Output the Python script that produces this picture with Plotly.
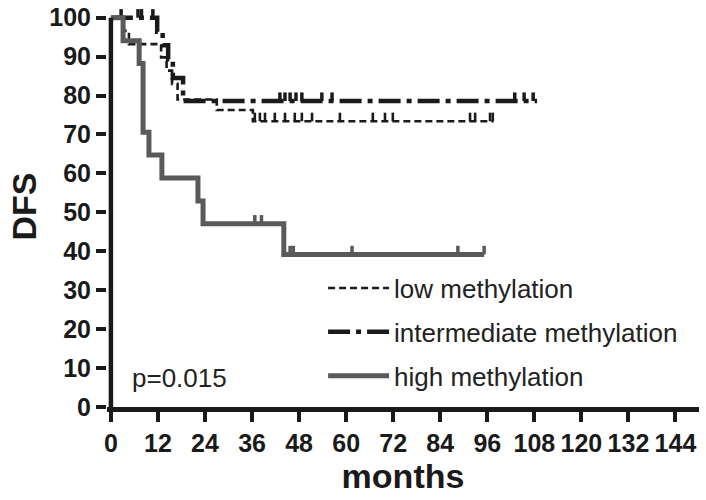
import plotly.graph_objects as go

# Kaplan-Meier steps (months, DFS %)
low_time = [0, 3.3, 4.6, 12.8, 14.2, 15.6, 17.0, 27.0, 36.2]
low_surv = [100, 96.6, 93.2, 89.8, 86.4, 83.0, 79.0, 76.3, 73.4]
low_cens = [36.7, 38.0, 39.3, 41.8, 44.4, 46.9, 48.7, 51.3, 58.4, 66.8, 69.9,
            71.9, 91.6, 92.9, 96.7, 97.4]
low_end = 97.6

int_time = [0, 11.8, 13.2, 14.6, 15.8, 18.4]
int_surv = [100, 96.4, 92.9, 89.3, 84.5, 78.6]
int_cens = [2.6, 6.9, 7.8, 10.7, 43.1, 44.4, 45.7, 47.2, 48.7, 53.8, 56.4,
            103.0, 105.4, 107.7]
int_end = 108.7

high_time = [0, 3.1, 7.2, 8.2, 9.7, 13.0, 22.2, 23.5, 44.1]
high_surv = [100, 94.1, 88.2, 70.6, 64.7, 58.8, 52.9, 47.1, 39.2]
high_cens = [36.7, 38.4, 45.7, 46.5, 61.5, 88.5, 95.2]
high_end = 95.2

x_ticks = list(range(0, 145, 12))
y_ticks = list(range(0, 101, 10))


def step_xy(times, surv, end):
    xs, ys = [], []
    for i, (t, s) in enumerate(zip(times, surv)):
        if i > 0:
            xs.append(t)
            ys.append(surv[i - 1])
        xs.append(t)
        ys.append(s)
    xs.append(end)
    ys.append(surv[-1])
    return xs, ys


def surv_at(times, surv, t):
    val = surv[0]
    for tt, s in zip(times, surv):
        if tt <= t:
            val = s
    return val


def cens_xy(times, surv, cens, h=2.2):
    xs, ys = [], []
    for c in cens:
        s = surv_at(times, surv, c)
        xs += [c, c, None]
        ys += [s, s + h, None]
    return xs, ys


groups = [
    ("low methylation", low_time, low_surv, low_cens, low_end, "#1a1a1a", 2.6, "7px,4px"),
    ("intermediate methylation", int_time, int_surv, int_cens, int_end, "#1a1a1a", 4.5,
     "22px,6px,5px,6px"),
    ("high methylation", high_time, high_surv, high_cens, high_end, "#5a5a5a", 5, "solid"),
]

fig = go.Figure()
for name, t, s, c, end, col, w, dash in groups:
    x, y = step_xy(t, s, end)
    fig.add_trace(go.Scatter(x=x, y=y, mode="lines", name=name, legendgroup=name,
                             line=dict(color=col, width=w, dash=dash)))
    cx, cy = cens_xy(t, s, c)
    fig.add_trace(go.Scatter(x=cx, y=cy, mode="lines", showlegend=False, legendgroup=name,
                             line=dict(color=col, width=min(w, 3.5))))

tickfont = dict(family="Liberation Sans, Arial", size=25, color="#1a1a1a", weight="bold")
titlefont = dict(family="Liberation Sans, Arial", size=34, color="#1a1a1a", weight="bold")

fig.update_layout(
    width=706, height=500,
    margin=dict(l=107, r=7, t=6, b=93),
    paper_bgcolor="white", plot_bgcolor="white",
    font=dict(family="Liberation Sans, Arial", color="#222"),
    legend=dict(x=0.365, y=0.355, xanchor="left", yanchor="top",
                font=dict(size=26, color="#222"), itemwidth=61,
                tracegroupgap=7, bgcolor="rgba(0,0,0,0)"),
    xaxis=dict(range=[-1, 150], tickvals=x_ticks, showgrid=False, zeroline=False,
               showline=True, linecolor="#1a1a1a", linewidth=4.5,
               ticks="outside", ticklen=10, tickwidth=4, tickcolor="#1a1a1a",
               tickangle=0, tickfont=tickfont, automargin=False,
               ticklabeloverflow="allow",
               title=dict(text="months", font=titlefont, standoff=6)),
    yaxis=dict(range=[0, 103], tickvals=y_ticks, showgrid=False, zeroline=False,
               showline=False, ticks="outside", ticklen=10, tickwidth=4, tickcolor="#1a1a1a",
               tickfont=tickfont, automargin=False, ticklabeloverflow="allow",
               title=dict(text="DFS", font=titlefont, standoff=2)),
    annotations=[dict(text="p=0.015", x=0.039, y=0.072, xref="paper", yref="paper",
                      xanchor="left", yanchor="middle", showarrow=False,
                      font=dict(size=26, color="#222"))],
    shapes=[dict(type="line", xref="x", yref="y", x0=0, x1=0, y0=0, y1=100,
                 line=dict(color="#1a1a1a", width=4.5), layer="above")],
)

# drop the page's default body margin so the figure fills the window
fig.write_html("out.html", config={"displayModeBar": False},
               post_script="document.body.style.margin='0';")
